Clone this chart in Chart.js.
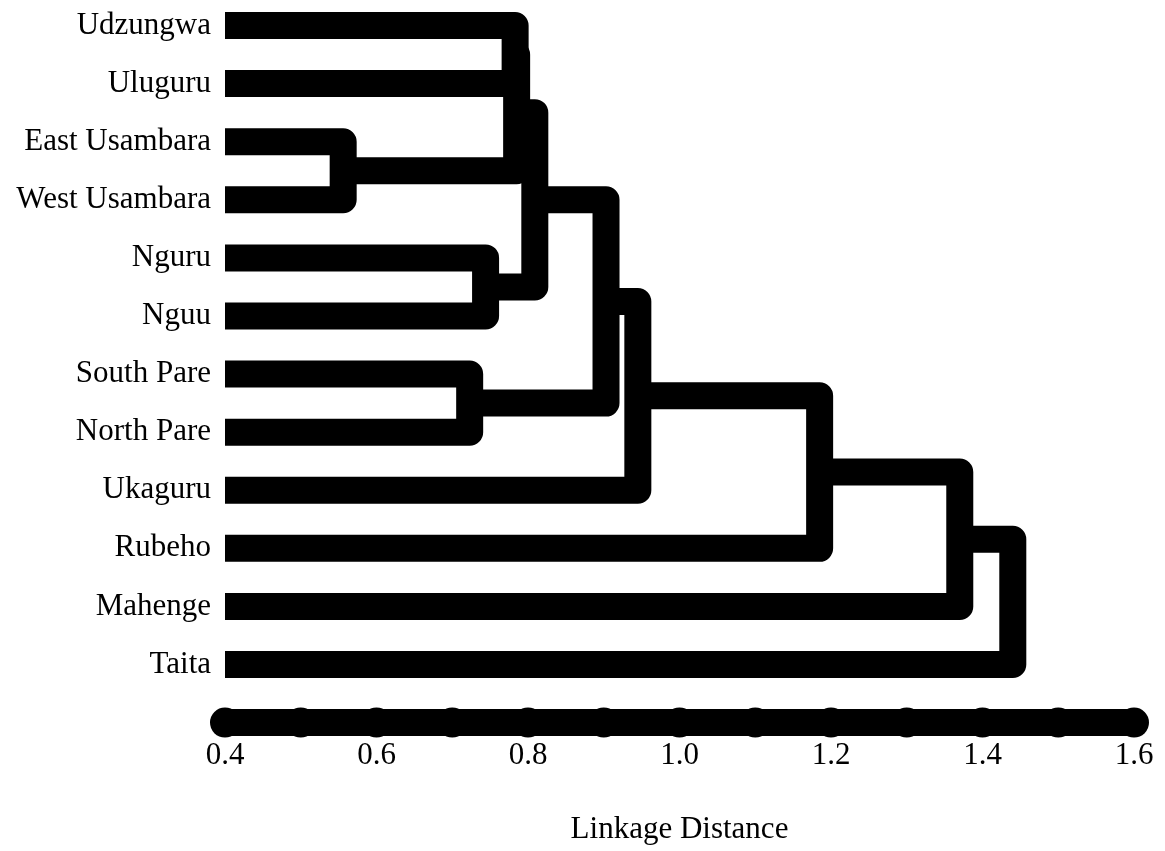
<!DOCTYPE html>
<html lang="en">
<head>
  <meta charset="UTF-8" />
  <title>Linkage Distance Dendrogram</title>
  <script src="https://cdn.jsdelivr.net/npm/chart.js"></script>
  <style>
    body {
      margin: 0;
      background: #fff;
    }
  </style>
</head>
<body>
  <canvas id="treeChart" width="1165" height="851"></canvas>

  <script>
    // leaves, top to bottom
    const leafNames = ["Udzungwa", "Uluguru", "East Usambara", "West Usambara", "Nguru", "Nguu",
      "South Pare", "North Pare", "Ukaguru", "Rubeho", "Mahenge", "Taita"];

    // merges: ids 0-11 are leaves, 12+ are clusters made in this order
    const mergeA = [0, 2, 4, 6, 12, 16, 17, 18, 19, 20, 21];
    const mergeB = [1, 3, 5, 7, 13, 14, 15, 8, 9, 10, 11];
    const mergeHeight = [0.783, 0.556, 0.744, 0.723, 0.785, 0.809, 0.903, 0.945, 1.185, 1.370, 1.440];

    const xTicks = [0.4, 0.6, 0.8, 1.0, 1.2, 1.4, 1.6];
    const axisDots = [0.4, 0.5, 0.6, 0.7, 0.8, 0.9, 1.0, 1.1, 1.2, 1.3, 1.4, 1.5, 1.6];
    const axisRow = 12;

    const font = "'Liberation Serif', 'Times New Roman', serif";

    // position of every node (leaf or cluster)
    const nodeX = leafNames.map(() => 0.4);
    const nodeY = leafNames.map((_, i) => i);
    mergeA.forEach((a, k) => {
      const b = mergeB[k];
      nodeX.push(mergeHeight[k]);
      nodeY.push((nodeY[a] + nodeY[b]) / 2);
    });

    const linkDatasets = mergeA.map((a, k) => {
      const b = mergeB[k];
      const h = mergeHeight[k];
      return {
        data: [
          { x: nodeX[a], y: nodeY[a] },
          { x: h, y: nodeY[a] },
          { x: h, y: nodeY[b] },
          { x: nodeX[b], y: nodeY[b] }
        ],
        showLine: true,
        borderColor: "#000",
        borderWidth: 27,
        borderJoinStyle: "round",
        borderCapStyle: "butt",
        pointRadius: 0,
        tension: 0,
        clip: false
      };
    });

    const axisDataset = {
      data: axisDots.map(v => ({ x: v, y: axisRow })),
      showLine: true,
      borderColor: "#000",
      borderWidth: 27,
      borderCapStyle: "round",
      pointRadius: 15,
      pointBorderWidth: 0,
      pointBackgroundColor: "#000",
      tension: 0,
      clip: false
    };

    new Chart(document.getElementById("treeChart"), {
      type: "scatter",
      data: { datasets: [...linkDatasets, axisDataset] },
      options: {
        responsive: false,
        animation: false,
        layout: { autoPadding: false, padding: { left: 10, right: 31, top: 1, bottom: 0 } },
        plugins: {
          legend: { display: false },
          tooltip: { enabled: false }
        },
        scales: {
          x: {
            type: "linear",
            min: 0.4,
            max: 1.6,
            grid: { display: false, drawTicks: false },
            border: { display: false },
            afterBuildTicks: scale => { scale.ticks = xTicks.map(v => ({ value: v })); },
            ticks: {
              color: "#000",
              padding: 0,
              font: { family: font, size: 31 },
              callback: v => Number(v).toFixed(1)
            },
            title: {
              display: true,
              text: "Linkage Distance",
              color: "#000",
              font: { family: font, size: 31 },
              padding: { top: 36, bottom: 3 }
            }
          },
          y: {
            type: "linear",
            reverse: true,
            min: -0.422,
            max: 12.258,
            grid: { display: false, drawTicks: false },
            border: { display: false },
            afterBuildTicks: scale => { scale.ticks = leafNames.map((_, i) => ({ value: i })); },
            afterFit: scale => {
              scale.width = 215;
              scale.paddingTop = 0;
              scale.paddingBottom = 0;
            },
            ticks: {
              color: "#000",
              padding: 14,
              autoSkip: false,
              font: { family: font, size: 31 },
              callback: v => leafNames[v]
            }
          }
        }
      }
    });
  </script>
</body>
</html>
